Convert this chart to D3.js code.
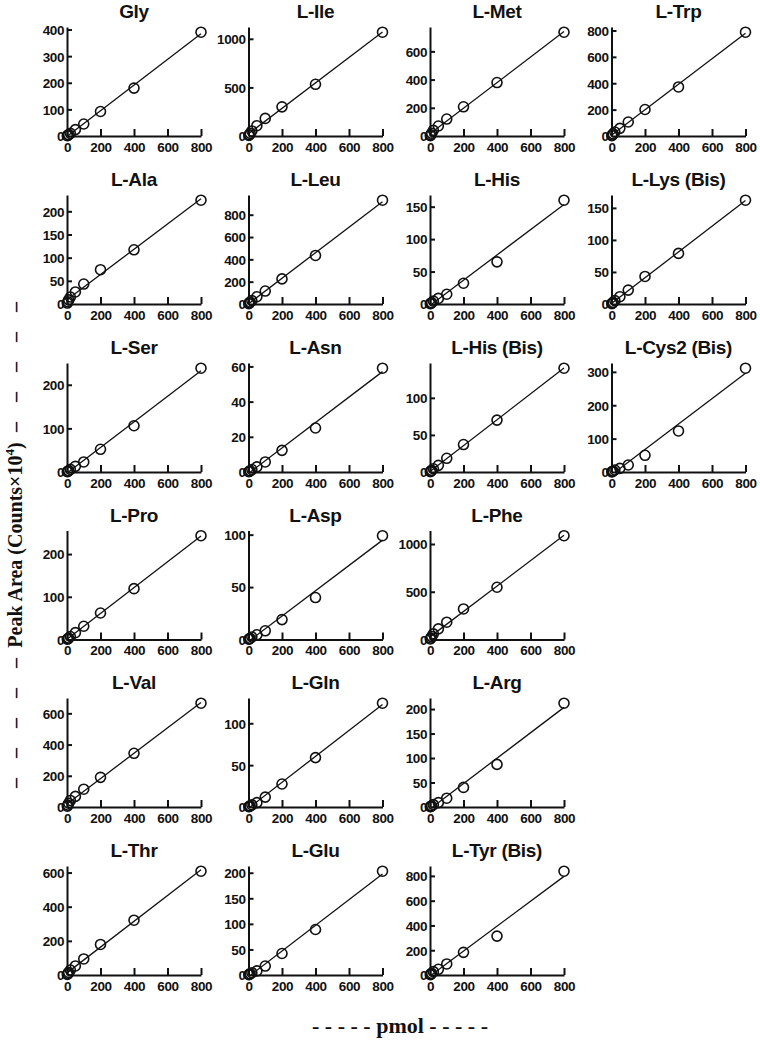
<!DOCTYPE html>
<html>
<head>
<meta charset="utf-8">
<script src="https://cdn.jsdelivr.net/npm/d3@7"></script>
<style>
  html, body { margin: 0; padding: 0; background: #fff; }
  svg { display: block; }
</style>
</head>
<body>
<svg id="chart" width="760" height="1050"></svg>
<script>
// ---- data ----
const pmol = [2, 5, 10, 20, 50, 100, 200, 400, 800];
const xTicks = [0, 200, 400, 600, 800];

const gly    = [1, 2.5, 5, 10, 24, 45, 92, 180, 390];
const ile    = [5, 13, 27, 52, 106, 181, 300, 532, 1068];
const met    = [3, 9, 19, 40, 71, 120, 207, 379, 736];
const trp    = [2, 8, 16, 30, 58, 106, 201, 372, 787];
const ala    = [2, 5, 9, 15, 26, 43, 74, 117, 224];
const leu    = [3, 10, 18, 30, 65, 116, 225, 435, 930];
const his    = [0.4, 1, 2, 4.5, 8.6, 15, 32, 65, 160];
const lysBis = [0.5, 1.3, 2.6, 5.2, 11.4, 21.7, 43, 79, 162];
const ser    = [0.6, 1.5, 3, 6, 13, 23, 52, 106, 238];
const asn    = [0.15, 0.4, 0.7, 1.4, 2.9, 5.7, 12.3, 25, 59];
const hisBis = [0.5, 1.1, 2.2, 4.4, 9, 18.5, 37, 70, 140];
const cysBis = [0.5, 1.5, 3, 6, 11, 21, 50, 123, 311];
const pro    = [0.6, 1.6, 3.2, 7, 16, 31, 62, 119, 243];
const asp    = [0.25, 0.6, 1.2, 2.4, 4.5, 8.3, 19, 40, 99];
const phe    = [6, 15, 31, 59, 111, 181, 320, 547, 1087];
const val    = [5, 12, 24, 42, 68, 114, 190, 344, 665];
const gln    = [0.3, 0.7, 1.3, 2.5, 5.2, 11.8, 27.5, 59, 124];
const arg    = [0.5, 1.2, 2.4, 4.8, 9, 18, 40, 87, 212];
const thr    = [3, 8, 15, 29, 53, 94, 179, 321, 608];
const glu    = [0.5, 1.2, 2.5, 4.5, 8, 17.5, 42, 89, 203];
const tyrBis = [3, 7, 14, 27, 46, 89, 183, 314, 838];

const glyTicks = [0, 100, 200, 300, 400];
const ileTicks = [0, 500, 1000];
const metTicks = [0, 200, 400, 600];
const trpTicks = [0, 200, 400, 600, 800];
const alaTicks = [0, 50, 100, 150, 200];
const leuTicks = [0, 200, 400, 600, 800];
const hisTicks = [0, 50, 100, 150];
const lysTicks = [0, 50, 100, 150];
const serTicks = [0, 100, 200];
const asnTicks = [0, 20, 40, 60];
const hisBisTicks = [0, 50, 100];
const cysTicks = [0, 100, 200, 300];
const proTicks = [0, 100, 200];
const aspTicks = [0, 50, 100];
const pheTicks = [0, 500, 1000];
const valTicks = [0, 200, 400, 600];
const glnTicks = [0, 50, 100];
const argTicks = [0, 50, 100, 150, 200];
const thrTicks = [0, 200, 400, 600];
const gluTicks = [0, 50, 100, 150, 200];
const tyrTicks = [0, 200, 400, 600, 800];

const names = [
  ["Gly", "L-Ile", "L-Met", "L-Trp"],
  ["L-Ala", "L-Leu", "L-His", "L-Lys (Bis)"],
  ["L-Ser", "L-Asn", "L-His (Bis)", "L-Cys2 (Bis)"],
  ["L-Pro", "L-Asp", "L-Phe"],
  ["L-Val", "L-Gln", "L-Arg"],
  ["L-Thr", "L-Glu", "L-Tyr (Bis)"]
];
const seriesValues = {
  "Gly": [gly, glyTicks], "L-Ile": [ile, ileTicks], "L-Met": [met, metTicks], "L-Trp": [trp, trpTicks],
  "L-Ala": [ala, alaTicks], "L-Leu": [leu, leuTicks], "L-His": [his, hisTicks], "L-Lys (Bis)": [lysBis, lysTicks],
  "L-Ser": [ser, serTicks], "L-Asn": [asn, asnTicks], "L-His (Bis)": [hisBis, hisBisTicks], "L-Cys2 (Bis)": [cysBis, cysTicks],
  "L-Pro": [pro, proTicks], "L-Asp": [asp, aspTicks], "L-Phe": [phe, pheTicks],
  "L-Val": [val, valTicks], "L-Gln": [gln, glnTicks], "L-Arg": [arg, argTicks],
  "L-Thr": [thr, thrTicks], "L-Glu": [glu, gluTicks], "L-Tyr (Bis)": [tyrBis, tyrTicks]
};

// ---- layout ----
const colX = [67, 248.5, 430, 611.5];
const rowBase = [136, 304, 472, 639.5, 807, 975];
const W = 134, H = 109;
const sans = "'Liberation Sans', Arial, Helvetica, sans-serif";
const serif = "'Liberation Serif', 'Times New Roman', serif";
const ink = "#111";

const svg = d3.select("#chart");

function fit(xs, ys) {
  const n = xs.length;
  const mx = d3.mean(xs), my = d3.mean(ys);
  let sxy = 0, sxx = 0;
  for (let i = 0; i < n; i++) { sxy += (xs[i] - mx) * (ys[i] - my); sxx += (xs[i] - mx) ** 2; }
  const m = sxy / sxx;
  return { m, b: my - m * mx };
}

names.forEach((row, r) => {
  row.forEach((name, c) => {
    const [vals, ticks] = seriesValues[name];
    const g = svg.append("g").attr("transform", `translate(${colX[c]},${rowBase[r] - H})`);
    const x = d3.scaleLinear().domain([0, 800]).range([0, W]);
    const y = d3.scaleLinear().domain([0, d3.max(vals) * 1.05]).range([H, 0]);

    // regression line
    const { m, b } = fit(pmol, vals);
    const x0 = b < 0 ? -b / m : 0;
    g.append("line")
      .attr("x1", x(x0)).attr("y1", y(m * x0 + b))
      .attr("x2", x(800)).attr("y2", y(m * 800 + b))
      .attr("stroke", ink).attr("stroke-width", 1.3);

    // axes
    const xa = g.append("g").attr("transform", `translate(0,${H})`)
      .call(d3.axisBottom(x).tickValues(xTicks).tickFormat(d3.format("d"))
        .tickSizeInner(-7).tickSizeOuter(0).tickPadding(6));
    const ya = g.append("g")
      .call(d3.axisLeft(y).tickValues(ticks).tickFormat(d3.format("d"))
        .tickSizeInner(-5).tickSizeOuter(0).tickPadding(3));
    [xa, ya].forEach(a => {
      a.attr("font-family", sans).attr("font-size", 13.5).attr("font-weight", "bold");
      a.select(".domain").attr("stroke", ink).attr("stroke-width", 2);
      a.selectAll(".tick line").attr("stroke", ink).attr("stroke-width", 2);
      a.selectAll(".tick text").attr("fill", ink).attr("letter-spacing", -0.4);
    });
    xa.selectAll(".tick text").attr("dy", "0.72em");
    ya.selectAll(".tick text").attr("dy", "0.36em");
    ya.selectAll(".tick").filter(d => d === 0).select("line").remove();

    // points
    g.selectAll("circle.pt").data(pmol.map((p, i) => [p, vals[i]]))
      .join("circle").attr("class", "pt")
      .attr("cx", d => x(d[0])).attr("cy", d => y(d[1])).attr("r", 5)
      .attr("fill", "none").attr("stroke", ink).attr("stroke-width", 1.6);

    // title
    g.append("text")
      .attr("x", W / 2).attr("y", -9)
      .attr("text-anchor", "middle")
      .attr("font-family", sans).attr("font-size", 19).attr("font-weight", "bold")
      .attr("letter-spacing", -0.3)
      .attr("fill", ink).text(name);
  });
});

// y axis label
const yl = svg.append("g").attr("transform", "translate(22,545) rotate(-90)")
  .attr("font-family", serif).attr("font-weight", "bold").attr("font-size", 20).attr("fill", ink);
const ylt = yl.append("text").attr("x", 0).attr("y", 0).attr("text-anchor", "middle");
ylt.append("tspan").text("Peak Area (Counts×10");
ylt.append("tspan").attr("font-size", 13).attr("dy", -8).text("4");
ylt.append("tspan").attr("dy", 8).text(")");
yl.append("text").attr("x", 113).attr("y", 0).attr("text-anchor", "start")
  .attr("textLength", 130).attr("lengthAdjust", "spacing").text("–––––");
yl.append("text").attr("x", -243).attr("y", 0).attr("text-anchor", "start")
  .attr("textLength", 130).attr("lengthAdjust", "spacing").text("–––––");

// x axis label
svg.append("text").attr("x", 400).attr("y", 1033).attr("text-anchor", "middle")
  .attr("font-family", serif).attr("font-weight", "bold").attr("font-size", 22).attr("fill", ink)
  .attr("xml:space", "preserve")
  .text("- - - - - pmol - - - - -");
</script>
</body>
</html>
